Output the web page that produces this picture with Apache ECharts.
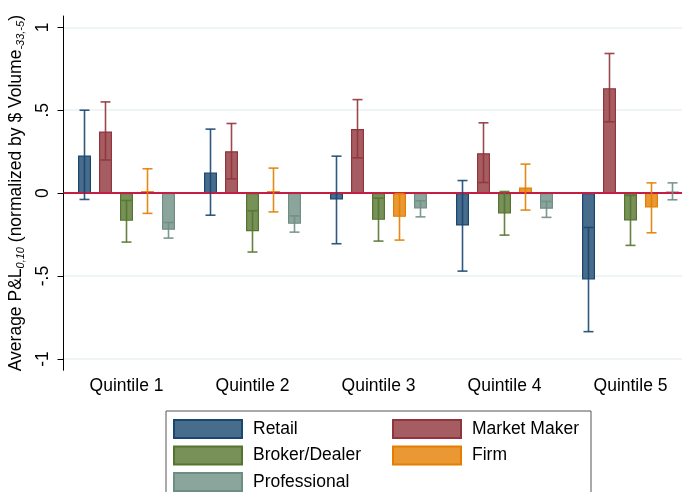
<!DOCTYPE html>
<html>
<head>
<meta charset="utf-8">
<script src="https://cdn.jsdelivr.net/npm/echarts@6/dist/echarts.min.js"></script>
<style>html,body{margin:0;padding:0;background:#fff;}#c{width:682px;height:492px;}</style>
</head>
<body>
<div id="c"></div>
<script>
const categories = ['Quintile 1', 'Quintile 2', 'Quintile 3', 'Quintile 4', 'Quintile 5'];
const seriesNames = ['Retail', 'Market Maker', 'Broker/Dealer', 'Firm', 'Professional'];
const retail      = [0.227, 0.125, -0.038, -0.195, -0.520];
const marketMaker = [0.372, 0.253, 0.386, 0.241, 0.633];
const brokerDealer= [-0.167, -0.229, -0.161, -0.122, -0.165];
const firm        = [0.012, 0.012, -0.143, 0.034, -0.086];
const professional= [-0.221, -0.185, -0.092, -0.094, 0.010];
const retailLo = [-0.038, -0.133, -0.305, -0.470, -0.835];
const retailHi = [0.500, 0.386, 0.223, 0.076, -0.207];
const mmLo = [0.200, 0.086, 0.213, 0.064, 0.430];
const mmHi = [0.550, 0.420, 0.564, 0.424, 0.842];
const bdLo = [-0.295, -0.355, -0.289, -0.253, -0.315];
const bdHi = [-0.044, -0.106, -0.030, 0.010, -0.014];
const firmLo = [-0.122, -0.113, -0.283, -0.102, -0.239];
const firmHi = [0.147, 0.151, -0.003, 0.175, 0.062];
const profLo = [-0.271, -0.235, -0.143, -0.146, -0.040];
const profHi = [-0.177, -0.137, -0.046, -0.050, 0.062];
const yTicks = [-1, -0.5, 0, 0.5, 1];
const yTickLabels = ['-1', '-.5', '0', '.5', '1'];

const values = [retail, marketMaker, brokerDealer, firm, professional];
const los = [retailLo, mmLo, bdLo, firmLo, profLo];
const his = [retailHi, mmHi, bdHi, firmHi, profHi];
const lineColors = ['#1a476f', '#90353b', '#55752f', '#e37e00', '#6e8e84'];
const fillColors = ['#486c8c', '#a65d62', '#779159', '#e99833', '#8ba59d'];

const BAR_W = 13, BAR_STEP = 21;
const FONT = 'Liberation Sans, Arial, sans-serif';

const series = [];
seriesNames.forEach((name, i) => {
  series.push({
    name: name, type: 'bar', data: values[i],
    barWidth: BAR_W, barGap: '61.5%',
    itemStyle: { color: fillColors[i], borderColor: lineColors[i], borderWidth: 1.2 },
    z: 2
  });
});
seriesNames.forEach((name, i) => {
  const data = categories.map((c, k) => [k, los[i][k], his[i][k]]);
  series.push({
    type: 'custom', name: name + ' CI', data: data, z: 5,
    encode: { x: 0, y: [1, 2] },
    renderItem: function (params, api) {
      const k = api.value(0);
      const lo = api.coord([k, api.value(1)]);
      const hi = api.coord([k, api.value(2)]);
      const x = lo[0] + (i - 2) * BAR_STEP;
      const hw = 5;
      const st = { stroke: lineColors[i], lineWidth: 1.6, opacity: 0.9 };
      return {
        type: 'group', children: [
          { type: 'line', shape: { x1: x, y1: lo[1], x2: x, y2: hi[1] }, style: st },
          { type: 'line', shape: { x1: x - hw, y1: lo[1], x2: x + hw, y2: lo[1] }, style: st },
          { type: 'line', shape: { x1: x - hw, y1: hi[1], x2: x + hw, y2: hi[1] }, style: st }
        ]
      };
    }
  });
});
// zero reference line
series.push({
  type: 'line', data: [], z: 4, silent: true,
  markLine: { symbol: 'none', silent: true, label: { show: false },
    lineStyle: { color: '#c41e45', width: 2, type: 'solid' },
    data: [{ yAxis: 0 }] }
});

const legendText = { color: '#000', fontSize: 17.5, fontFamily: FONT, padding: [0, 0, 0, 6] };
const chart = echarts.init(document.getElementById('c'), null, { renderer: 'canvas' });
chart.setOption({
  animation: false,
  backgroundColor: '#fff',
  textStyle: { fontFamily: FONT },
  grid: { left: 63.5, right: -11.5, top: 16, bottom: 121.7, containLabel: false, outerBoundsMode: 'none' },
  xAxis: {
    type: 'category', data: categories,
    axisLine: { lineStyle: { color: '#000', width: 1 } },
    axisTick: { alignWithLabel: true, length: 5, lineStyle: { color: '#000' } },
    axisLabel: { color: '#000', fontSize: 17.5, fontFamily: FONT, margin: 7 },
    splitLine: { show: false }
  },
  yAxis: {
    type: 'value', min: -1.068, max: 1.068,
    axisLine: { show: true, lineStyle: { color: '#000', width: 1 } },
    axisTick: { show: true, length: 6, lineStyle: { color: '#000' }, customValues: yTicks },
    axisLabel: { color: '#000', fontSize: 17.5, fontFamily: FONT, rotate: 90, margin: 11,
      customValues: yTicks,
      formatter: function (v) { const idx = yTicks.findIndex(t => Math.abs(t - v) < 1e-6); return idx >= 0 ? yTickLabels[idx] : ''; } },
    splitLine: { show: true, lineStyle: { color: '#eaf0f3', width: 1.5 } },
    name: 'Average P&L{sub|0,10} (normalized by $ Volume{sub|-33,-5})',
    nameLocation: 'middle', nameRotate: 90, nameGap: 35,
    nameTextStyle: { color: '#000', fontSize: 17.5, fontFamily: FONT,
      rich: { sub: { fontSize: 11, fontStyle: 'italic', fontFamily: FONT, color: '#000', padding: [10, 0, 0, 0] } } }
  },
  legend: [
    { data: seriesNames.filter((n, i) => i % 2 === 0), orient: 'vertical', left: 173, top: 419,
      padding: 0, height: 90, itemWidth: 68, itemHeight: 18, itemGap: 6.5, icon: 'rect', textStyle: legendText },
    { data: seriesNames.filter((n, i) => i % 2 === 1), orient: 'vertical', left: 392, top: 419,
      padding: 0, height: 90, itemWidth: 68, itemHeight: 18, itemGap: 6.5, icon: 'rect', textStyle: legendText }
  ],
  graphic: [
    { type: 'rect', shape: { x: 166, y: 411, width: 425, height: 100 },
      style: { fill: 'none', stroke: '#555', lineWidth: 1 }, silent: true, z: -1 }
  ],
  series: series
});
</script>
</body>
</html>
